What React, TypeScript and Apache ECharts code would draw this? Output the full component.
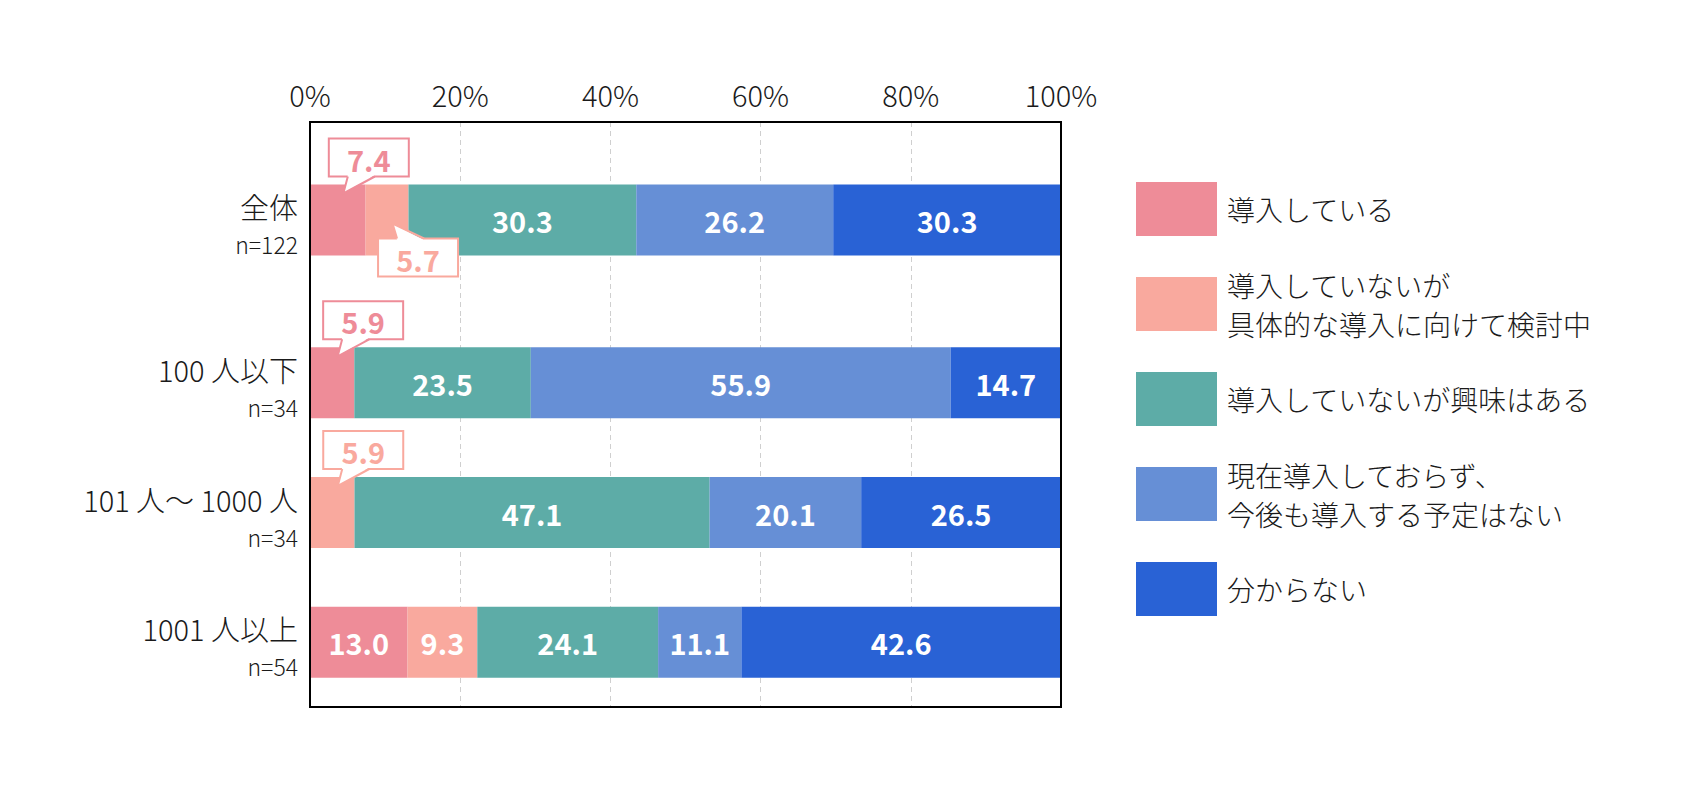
import React, { useEffect, useRef } from "react";
import * as echarts from "echarts";

const categories = ["全体", "100 人以下", "101 人〜 1000 人", "1001 人以上"];
const sampleSizes = ["n=122", "n=34", "n=34", "n=54"];
const seriesNames = [
  "導入している",
  "導入していないが\n具体的な導入に向けて検討中",
  "導入していないが興味はある",
  "現在導入しておらず、\n今後も導入する予定はない",
  "分からない",
];
const colors = ["#EE8C98", "#F9A99E", "#5DACA7", "#668FD6", "#2962D5"];
const introduced = [7.4, 5.9, 0, 13.0];
const considering = [5.7, 0, 5.9, 9.3];
const interested = [30.3, 23.5, 47.1, 24.1];
const noPlan = [26.2, 55.9, 20.1, 11.1];
const unknown = [30.3, 14.7, 26.5, 42.6];
const xTickValues = [0, 20, 40, 60, 80, 100];
const xTickLabels = ["0%", "20%", "40%", "60%", "80%", "100%"];

const seriesValues = [introduced, considering, interested, noPlan, unknown];

const FONT = '"Noto Sans CJK JP", "Noto Sans", sans-serif';
const BAR_W = 71;
const INSIDE_MIN = 9;
const TEXT_COLOR = "#1a1a1a";
const LIGHT = 300;

export default function App() {
  const ref = useRef<HTMLDivElement>(null);

  useEffect(() => {
    if (!ref.current) return;
    const chart = echarts.init(ref.current, null, { renderer: "svg" });

    const rowSum = (r: number) => seriesValues.reduce((a, s) => a + s[r], 0);
    const gridRows = [[0], [1, 2, 3]];

    const barSeries: any[] = [];
    gridRows.forEach((rows, g) => {
      seriesValues.forEach((vals, s) => {
        barSeries.push({
          type: "bar",
          name: seriesNames[s],
          stack: "g" + g,
          xAxisIndex: g,
          yAxisIndex: g * 2,
          barWidth: BAR_W,
          itemStyle: { color: colors[s] },
          label: {
            show: true,
            position: "inside",
            color: "#fff",
            fontSize: 29,
            fontWeight: "bold",
            fontFamily: FONT,
            formatter: (p: any) => (p.data.raw >= INSIDE_MIN ? p.data.raw.toFixed(1) : ""),
          },
          data: rows.map((r) => ({ value: (vals[r] / rowSum(r)) * 100, raw: vals[r] })),
        });
      });
    });

    // callouts for small segments
    const calloutSeries: any[] = gridRows.map((rows, g) => {
      const data: any[] = [];
      rows.forEach((r, ri) => {
        let cum = 0;
        let prevCallout = false;
        seriesValues.forEach((vals, s) => {
          const norm = (vals[r] / rowSum(r)) * 100;
          const isCallout = vals[r] > 0 && vals[r] < INSIDE_MIN;
          if (isCallout) {
            data.push([cum + norm / 2, ri, vals[r], s, prevCallout ? 1 : 0]);
          }
          prevCallout = isCallout;
          cum += norm;
        });
      });
      return {
        type: "custom",
        xAxisIndex: g,
        yAxisIndex: g * 2,
        z: 10,
        encode: { x: 0, y: 1 },
        data,
        renderItem: (params: any, api: any) => {
          const mid = api.value(0);
          const row = api.value(1);
          const raw = api.value(2);
          const sIdx = api.value(3);
          const dir = api.value(4);
          const pt = api.coord([mid, row]);
          const cx = pt[0];
          const cy = pt[1];
          const half = BAR_W / 2;
          const col = colors[sIdx];
          const boxW = 80;
          const boxH = 38;
          const left = cx - 9;
          let top, baseY, tipY, inner;
          if (dir === 0) {
            top = cy - half - 8 - boxH;
            baseY = top + boxH;
            tipY = cy - half + 9;
            inner = baseY - 1.5;
          } else {
            top = cy + half - 17;
            baseY = top;
            tipY = top - 15;
            inner = baseY + 1.5;
          }
          const tipX = left + 14.5;
          const b1 = left + 19;
          const b2 = left + 46;
          return {
            type: "group",
            children: [
              {
                type: "rect",
                shape: { x: left, y: top, width: boxW, height: boxH },
                style: { fill: "#fff", stroke: col, lineWidth: 2 },
              },
              {
                type: "polygon",
                shape: { points: [[b1, inner], [b2, inner], [tipX, tipY]] },
                style: { fill: "#fff" },
              },
              {
                type: "polyline",
                shape: { points: [[b1, baseY], [tipX, tipY], [b2, baseY]] },
                style: { fill: "none", stroke: col, lineWidth: 2 },
              },
              {
                type: "text",
                style: {
                  text: raw.toFixed(1),
                  x: left + boxW / 2,
                  y: top + boxH / 2 + 1,
                  align: "center",
                  verticalAlign: "middle",
                  fill: col,
                  fontSize: 29,
                  fontWeight: "bold",
                  fontFamily: FONT,
                },
              },
            ],
          };
        },
      };
    });

    const xAxisBase = (g: number) => ({
      gridIndex: g,
      type: "value",
      min: 0,
      max: 100,
      interval: 20,
      position: "top",
      axisLine: { show: false },
      axisTick: { show: false },
      axisLabel: {
        show: g === 0,
        margin: 14,
        fontSize: 29,
        fontWeight: LIGHT,
        color: TEXT_COLOR,
        fontFamily: FONT,
        formatter: (v: number) => xTickLabels[xTickValues.indexOf(v)] ?? "",
      },
      splitLine: {
        show: true,
        lineStyle: { color: "#cfcfcf", width: 1, type: [5, 4] },
      },
    });

    // two label axes per grid: category name (upper) and sample size (lower)
    const yAxisBase = (g: number, kind: number) => ({
      gridIndex: g,
      type: "category",
      position: "left",
      offset: 0,
      inverse: true,
      data: gridRows[g].map((r) => categories[r]),
      axisLine: { show: false },
      axisTick: { show: false },
      splitLine: { show: false },
      axisLabel: {
        margin: 12,
        fontSize: kind === 0 ? 29 : 23,
        lineHeight: kind === 0 ? 28 : 48,
        verticalAlign: kind === 0 ? "bottom" : "top",
        fontWeight: LIGHT,
        color: TEXT_COLOR,
        fontFamily: FONT,
        formatter: (v: string) => (kind === 0 ? v : sampleSizes[categories.indexOf(v)]),
      },
    });

    chart.setOption({
      animation: false,
      backgroundColor: "#fff",
      grid: [
        { left: 310, right: 624, top: 122, height: 196 },
        { left: 310, right: 624, top: 318, height: 389 },
      ],
      xAxis: [xAxisBase(0), xAxisBase(1)],
      yAxis: [yAxisBase(0, 0), yAxisBase(0, 1), yAxisBase(1, 0), yAxisBase(1, 1)],
      legend: {
        orient: "vertical",
        left: 1131,
        top: 177,
        itemWidth: 81,
        itemHeight: 54,
        itemGap: 29,
        icon: "rect",
        selectedMode: false,
        data: seriesNames,
        textStyle: {
          fontSize: 28,
          lineHeight: 39,
          fontWeight: LIGHT,
          color: TEXT_COLOR,
          fontFamily: FONT,
          padding: [0, 0, 0, 5],
        },
      },
      graphic: [
        {
          type: "rect",
          z: 100,
          shape: { x: 310, y: 122, width: 751, height: 585 },
          style: { fill: "none", stroke: "#000", lineWidth: 2 },
        },
      ],
      series: [...barSeries, ...calloutSeries],
    });

    return () => chart.dispose();
  }, []);

  return (
    <div
      ref={ref}
      style={{ position: "absolute", left: 0, top: 0, width: "1685px", height: "795px" }}
    />
  );
}
